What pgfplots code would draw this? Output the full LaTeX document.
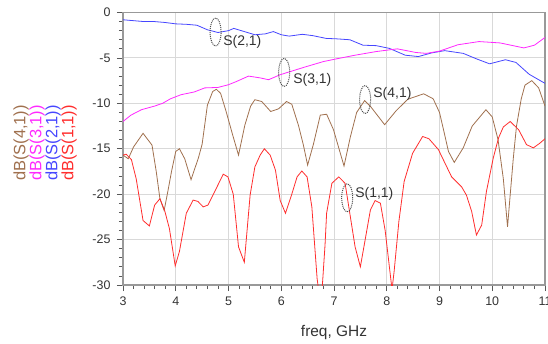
\documentclass[border=0pt]{standalone}
\usepackage{pgfplots}
\pgfplotsset{compat=1.18}
\usepackage{fontspec}
\setmainfont{Liberation Sans}
\definecolor{cbrown}{RGB}{160,112,78}
\definecolor{cmag}{RGB}{255,40,255}
\definecolor{cblue}{RGB}{70,70,255}
\definecolor{cred}{RGB}{255,45,45}
\begin{document}
\begin{tikzpicture}
\useasboundingbox (-123bp,-59bp) rectangle (425bp,285bp);
\begin{axis}[
  scale only axis, width=422bp, height=272.5bp,
  at={(0,0)}, anchor=south west,
  xmin=3, xmax=11, ymin=-30, ymax=0,
  xtick={3,4,5,6,7,8,9,10,11},
  ytick={-30,-25,-20,-15,-10,-5,0},
  xticklabels={3,4,5,6,7,8,9,10,11},
  yticklabels={-30,-25,-20,-15,-10,-5,0},
  minor x tick num=4, minor y tick num=4,
  tick align=outside, xtick pos=bottom, ytick pos=left,
  major tick length=6bp, minor tick length=4bp,
  grid=major, major grid style={gray!30, line width=0.9bp},
  axis line style={gray!80, line width=1.1bp},
  every tick/.style={gray!70!black, line width=0.8bp},
  tick label style={font=\fontsize{12.5}{14}\selectfont, text=black!80},
  xticklabel style={yshift=-2.5bp},
  yticklabel style={xshift=-3bp},
  xlabel={freq, GHz},
  xlabel style={font=\fontsize{15.5}{18}\selectfont, text=black!80, at={(axis description cs:0.5,0)}, anchor=center, yshift=-48bp},
  every axis plot/.append style={line width=0.8bp, mark=none},
]
% S(2,1)
\addplot[cblue] coordinates {
(3.0,-0.8) (3.2,-0.9) (3.4,-1.0) (3.6,-1.0) (3.8,-1.1) (4.0,-1.25) (4.2,-1.3) (4.4,-1.4)
(4.6,-1.9) (4.8,-2.2) (5.0,-2.0) (5.1,-1.75) (5.3,-2.1) (5.5,-2.45) (5.7,-2.35) (5.85,-2.1)
(6.0,-2.45) (6.15,-2.6) (6.4,-2.4) (6.6,-2.55) (6.85,-2.85) (7.05,-2.9) (7.3,-3.0) (7.55,-3.6)
(7.8,-3.65) (8.05,-3.95) (8.35,-4.7) (8.6,-4.85) (8.85,-4.45) (9.1,-4.2) (9.45,-4.5) (9.7,-5.1)
(9.95,-5.65) (10.25,-5.2) (10.45,-5.5) (10.7,-6.8) (11.0,-7.8)
};
% S(3,1)
\addplot[cmag] coordinates {
(3.0,-12.0) (3.15,-11.3) (3.35,-10.7) (3.6,-10.3) (3.75,-10.0) (3.9,-9.5) (4.1,-9.05) (4.35,-8.75)
(4.55,-8.3) (4.8,-8.25) (5.0,-7.95) (5.15,-7.6) (5.38,-7.0) (5.6,-7.2) (5.76,-7.4) (5.98,-6.85)
(6.2,-6.45) (6.45,-6.0) (6.8,-5.4) (7.05,-5.1) (7.4,-4.7) (7.8,-4.3) (8.2,-4.0) (8.55,-4.4)
(8.75,-4.5) (9.0,-4.25) (9.35,-3.55) (9.75,-3.2) (10.15,-3.35) (10.6,-3.9) (10.8,-3.6) (11.0,-2.75)
};
% S(4,1)
\addplot[cbrown] coordinates {
(3.0,-15.7) (3.1,-16.1) (3.2,-14.8) (3.38,-13.3) (3.55,-14.6) (3.63,-17.5) (3.7,-20.5) (3.78,-21.8)
(3.85,-19.7) (3.92,-17.5) (4.0,-15.3) (4.07,-15.0) (4.17,-16.1) (4.29,-18.4) (4.43,-16.0) (4.5,-14.5)
(4.6,-10.2) (4.7,-8.7) (4.77,-8.45) (4.85,-8.9) (4.95,-10.8) (5.08,-13.5) (5.19,-15.7) (5.31,-12.4)
(5.42,-10.3) (5.5,-9.6) (5.63,-9.8) (5.8,-10.9) (5.95,-10.6) (6.1,-9.8) (6.2,-10.1) (6.33,-12.5)
(6.42,-14.6) (6.5,-16.8) (6.61,-14.5) (6.74,-11.3) (6.86,-11.2) (6.99,-12.9) (7.19,-16.9) (7.31,-13.7)
(7.43,-11.0) (7.58,-9.7) (7.7,-10.4) (7.96,-12.35) (8.18,-10.8) (8.4,-9.55) (8.7,-8.95) (8.88,-9.5)
(9.0,-11.0) (9.08,-13.0) (9.17,-15.3) (9.28,-16.5) (9.45,-14.9) (9.62,-12.5) (9.88,-10.7) (10.0,-11.5)
(10.11,-14.0) (10.21,-18.3) (10.29,-23.6) (10.34,-20.1) (10.4,-16.0) (10.46,-12.5) (10.55,-9.5) (10.62,-8.0)
(10.75,-7.5) (10.88,-8.3) (11.0,-10.3)
};
% S(1,1)
\addplot[cred] coordinates {
(3.0,-15.7) (3.06,-15.6) (3.16,-16.2) (3.25,-18.3) (3.38,-22.9) (3.5,-23.5) (3.6,-21.2) (3.7,-20.5)
(3.79,-21.8) (3.88,-23.8) (3.99,-27.9) (4.07,-26.3) (4.2,-22.1) (4.33,-20.65) (4.42,-20.8) (4.52,-21.4)
(4.61,-21.2) (4.74,-19.7) (4.9,-17.8) (4.99,-18.1) (5.09,-20.0) (5.19,-25.8) (5.3,-27.5) (5.41,-20.1)
(5.5,-17.0) (5.6,-15.7) (5.68,-15.0) (5.79,-15.7) (5.89,-17.35) (5.98,-20.7) (6.08,-22.1) (6.2,-20.0)
(6.3,-18.1) (6.39,-17.45) (6.49,-18.1) (6.58,-21.4) (6.68,-29.3) (6.73,-31.5) (6.78,-30.0) (6.83,-25.6)
(6.86,-22.1) (6.96,-18.8) (7.09,-18.1) (7.21,-18.8) (7.4,-25.8) (7.5,-28.0) (7.69,-21.75) (7.78,-20.7)
(7.88,-21.0) (7.97,-24.0) (8.1,-30.5) (8.14,-28.5) (8.23,-23.0) (8.33,-18.6) (8.49,-15.5) (8.68,-13.65)
(8.8,-13.9) (8.98,-15.1) (9.23,-18.1) (9.42,-19.2) (9.51,-20.1) (9.61,-21.9) (9.7,-24.5) (9.8,-23.4)
(9.89,-19.7) (10.02,-16.0) (10.12,-13.8) (10.21,-12.6) (10.34,-12.0) (10.5,-12.9) (10.65,-14.55) (10.78,-14.9)
(10.9,-14.4) (11.0,-13.9)
};
% annotations
\draw[densely dotted, line width=1bp, black!70] (axis cs:4.755,-2.15) ellipse [x radius=5.5bp, y radius=14bp];
\draw[densely dotted, line width=1bp, black!70] (axis cs:6.055,-6.6) ellipse [x radius=5.5bp, y radius=14bp];
\draw[densely dotted, line width=1bp, black!70] (axis cs:7.59,-9.58) ellipse [x radius=5.5bp, y radius=14bp];
\draw[densely dotted, line width=1bp, black!70] (axis cs:7.25,-20.4) ellipse [x radius=5.5bp, y radius=14bp];
\node[anchor=west, inner sep=0pt, font=\fontsize{14}{16}\selectfont, text=black!80] at (axis cs:4.898,-3.19) {S(2,1)};
\node[anchor=west, inner sep=0pt, font=\fontsize{14}{16}\selectfont, text=black!80] at (axis cs:6.226,-7.43) {S(3,1)};
\node[anchor=west, inner sep=0pt, font=\fontsize{14}{16}\selectfont, text=black!80] at (axis cs:7.744,-8.98) {S(4,1)};
\node[anchor=west, inner sep=0pt, font=\fontsize{14}{16}\selectfont, text=black!80] at (axis cs:7.402,-19.93) {S(1,1)};
\end{axis}
\begin{scope}[every node/.style={rotate=90, inner sep=0pt, font=\fontsize{16.5}{18}\selectfont}]
\node[text=cbrown] at (-102bp,142bp) {dB(S(4,1))};
\node[text=cmag] at (-86bp,142bp) {dB(S(3,1))};
\node[text=cblue] at (-70bp,142bp) {dB(S(2,1))};
\node[text=cred] at (-54bp,142bp) {dB(S(1,1))};
\end{scope}
\end{tikzpicture}
\end{document}
